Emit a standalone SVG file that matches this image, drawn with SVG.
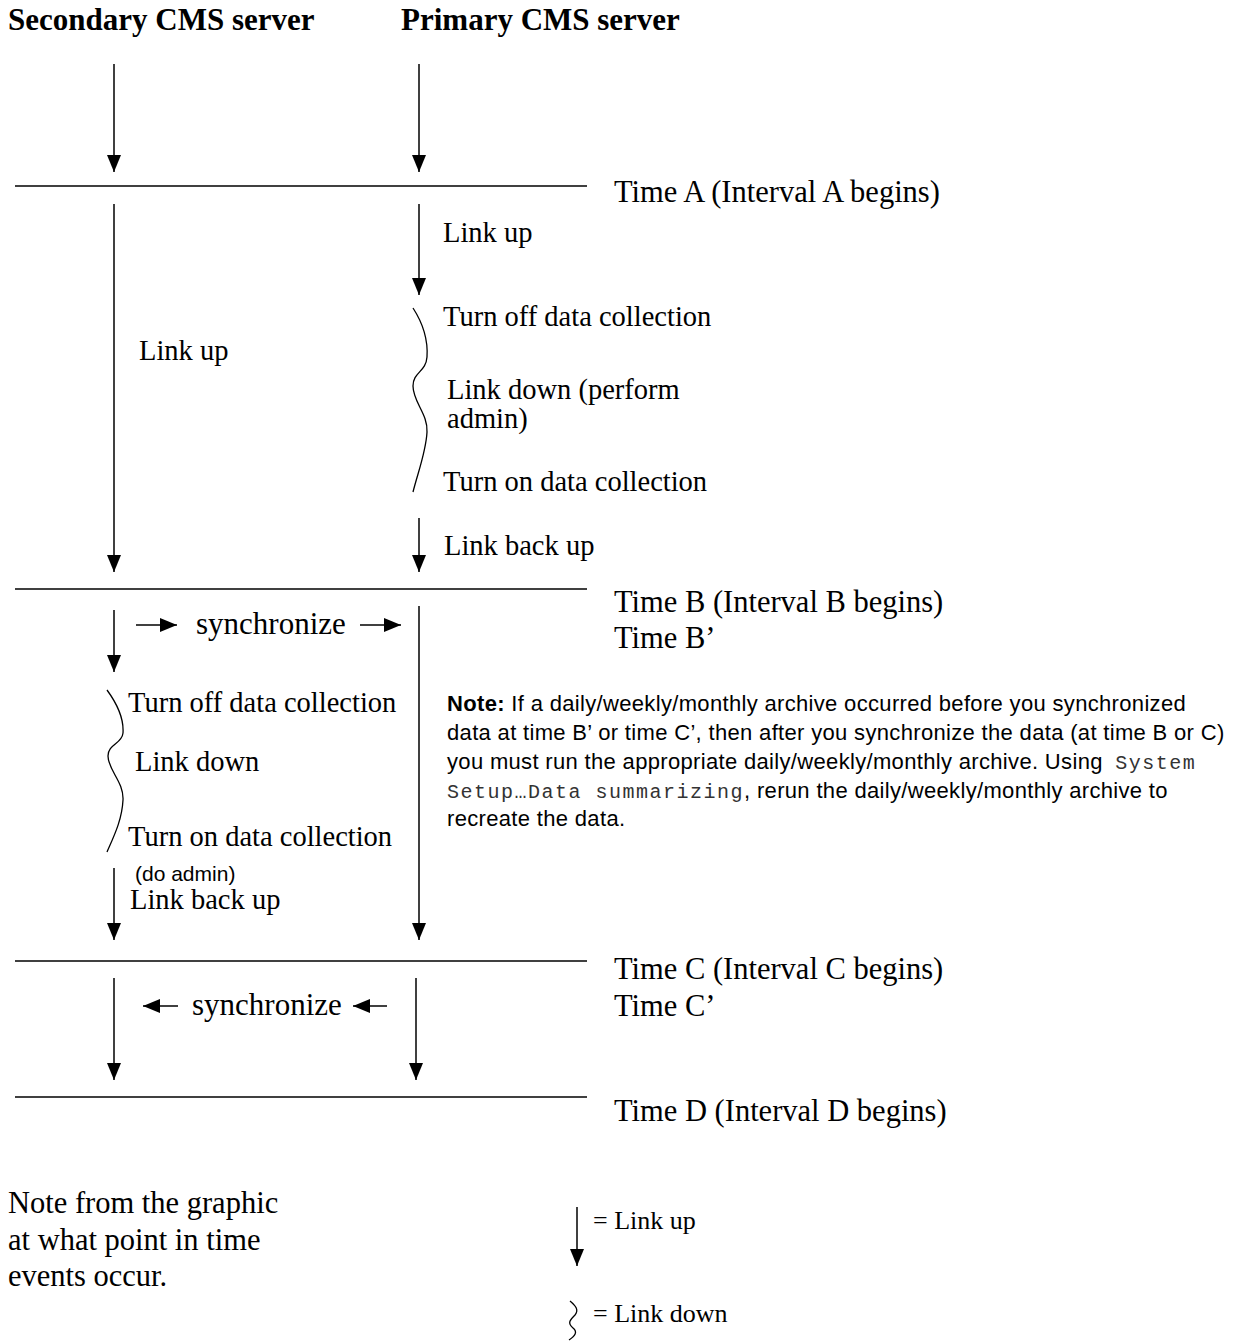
<svg xmlns="http://www.w3.org/2000/svg" width="1238" height="1341" viewBox="0 0 1238 1341">
<style>
.t{font-family:"Liberation Serif","Times New Roman",serif;fill:#000}
.hd{font-size:31px;font-weight:bold}
.lb{font-size:28.5px}
.tm{font-size:30.5px}
.s{font-family:"Liberation Sans",Arial,sans-serif;fill:#000}
.m{font-family:"Liberation Mono","Courier New",monospace;fill:#333;letter-spacing:1.5px}
.ln{stroke:#000;stroke-width:1.5;fill:none}
.ar{stroke:#000;stroke-width:1.5;fill:none;marker-end:url(#ah)}
.br{stroke:#000;stroke-width:1.3;fill:none}
</style>
<defs>
<marker id="ah" markerUnits="userSpaceOnUse" viewBox="0 0 17 14" refX="17" refY="7" markerWidth="17" markerHeight="14" orient="auto">
<path d="M0,0 L17,7 L0,14 z" fill="#000"/>
</marker>
</defs>
<rect width="1238" height="1341" fill="#fff"/>
<g id="headers">
<text class="t hd" x="8" y="30">Secondary CMS server</text>
<text class="t hd" x="401" y="30">Primary CMS server</text>
</g>
<g id="timelines">
<line class="ln" x1="15" y1="186" x2="587" y2="186"/>
<line class="ln" x1="15" y1="589" x2="587" y2="589"/>
<line class="ln" x1="15" y1="961" x2="587" y2="961"/>
<line class="ln" x1="15" y1="1097" x2="587" y2="1097"/>
<text class="t tm" x="614" y="202">Time A (Interval A begins)</text>
<text class="t tm" x="614" y="612">Time B (Interval B begins)</text>
<text class="t tm" x="614" y="648">Time B’</text>
<text class="t tm" x="614" y="979">Time C (Interval C begins)</text>
<text class="t tm" x="614" y="1016">Time C’</text>
<text class="t tm" x="614" y="1121">Time D (Interval D begins)</text>
</g>
<g id="connectors">
<line class="ar" x1="114" y1="64" x2="114" y2="172"/>
<line class="ar" x1="419" y1="64" x2="419" y2="172"/>
<line class="ar" x1="114" y1="204" x2="114" y2="572"/>
<line class="ar" x1="419" y1="204" x2="419" y2="295"/>
<line class="ar" x1="419" y1="518" x2="419" y2="572"/>
<line class="ar" x1="114" y1="610" x2="114" y2="672"/>
<line class="ar" x1="419" y1="606" x2="419" y2="940"/>
<line class="ar" x1="114" y1="868" x2="114" y2="940"/>
<line class="ar" x1="136" y1="625" x2="177" y2="625"/>
<line class="ar" x1="360" y1="625" x2="401" y2="625"/>
<line class="ar" x1="114" y1="978" x2="114" y2="1080"/>
<line class="ar" x1="416" y1="978" x2="416" y2="1080"/>
<line class="ar" x1="178" y1="1006" x2="143" y2="1006"/>
<line class="ar" x1="387" y1="1006" x2="353" y2="1006"/>
<path class="br" d="M413,308 C424,325 428,342 427,357 C426,372 413,372 413,386 C413,402 428,414 427,432 C426,452 418,472 413,492"/>
<path class="br" d="M107,690 C118,705 124,718 123,733 C122,744 108,744 108,756 C108,770 124,782 123,800 C122,820 114,836 107,852"/>
</g>
<g id="primary-labels">
<text class="t lb" x="443" y="242">Link up</text>
<text class="t lb" x="443" y="326">Turn off data collection</text>
<text class="t lb" x="447" y="399">Link down (perform</text>
<text class="t lb" x="447" y="428">admin)</text>
<text class="t lb" x="443" y="491">Turn on data collection</text>
<text class="t lb" x="444" y="555">Link back up</text>
</g>
<g id="secondary-labels">
<text class="t lb" x="139" y="360">Link up</text>
<text class="t" font-size="31" x="196" y="634">synchronize</text>
<text class="t lb" x="128" y="712">Turn off data collection</text>
<text class="t lb" x="135" y="771">Link down</text>
<text class="t lb" x="128" y="846">Turn on data collection</text>
<text class="s" x="135" y="881" font-size="21">(do admin)</text>
<text class="t lb" x="130" y="909">Link back up</text>
<text class="t" font-size="31" x="192" y="1015">synchronize</text>
</g>
<g id="note" class="s" font-size="22" letter-spacing="0.33">
<text x="447" y="711"><tspan font-weight="bold">Note:</tspan> If a daily/weekly/monthly archive occurred before you synchronized</text>
<text x="447" y="740">data at time B’ or time C’, then after you synchronize the data (at time B or C)</text>
<text x="447" y="769">you must run the appropriate daily/weekly/monthly archive. Using <tspan class="m" font-size="20" dx="6">System</tspan></text>
<text x="447" y="798"><tspan class="m" font-size="20">Setup…Data summarizing</tspan>, rerun the daily/weekly/monthly archive to</text>
<text x="447" y="826">recreate the data.</text>
</g>
<g id="footnote">
<text class="t tm" x="8" y="1213">Note from the graphic</text>
<text class="t tm" x="8" y="1250">at what point in time</text>
<text class="t tm" x="8" y="1286">events occur.</text>
</g>
<g id="legend">
<line class="ar" x1="577" y1="1207" x2="577" y2="1266"/>
<text class="t" font-size="26" x="593" y="1229">= Link up</text>
<path class="br" d="M570,1301 C576,1306 579,1310 575,1315 C570,1320 567,1323 573,1328 C578,1332 575,1336 569,1340"/>
<text class="t" font-size="26" x="593" y="1322">= Link down</text>
</g>
</svg>
